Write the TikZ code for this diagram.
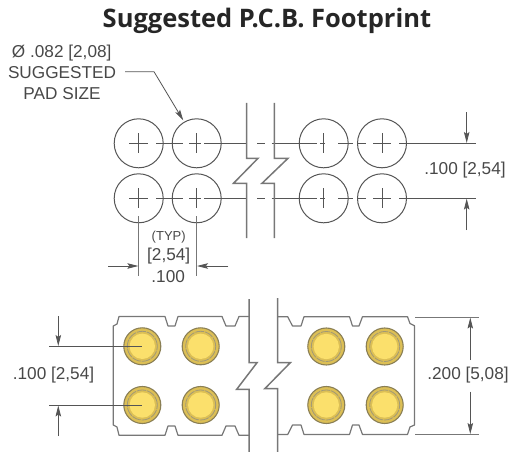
\documentclass[tikz,border=0pt]{standalone}
\usepackage{fontspec}
\setmainfont{Liberation Sans}
\newfontfamily\titlefont{Open Sans}
\usetikzlibrary{arrows.meta}
\definecolor{ink}{HTML}{555555}
\definecolor{txt}{HTML}{484848}
\definecolor{brk}{HTML}{777777}
\definecolor{padring}{HTML}{DCBF55}
\definecolor{padcore}{HTML}{FBE06C}
\definecolor{padedge}{HTML}{8A7F55}
\tikzset{
  x=1pt,y=-1pt,
  thin line/.style={draw=ink,line width=0.9pt},
  centre line/.style={draw=ink,line width=0.8pt},
  break line/.style={draw=brk,line width=1.5pt,line join=miter},
  outline/.style={draw=brk,line width=1.2pt,line join=round},
  ext line/.style={draw=brk,line width=0.9pt},
  dim arrow/.style={draw=ink,line width=0.8pt,-{Stealth[length=11pt,width=5.5pt,inset=2pt]}},
  padhole/.style={circle,draw=ink,line width=1pt,minimum size=49pt,inner sep=0pt,outer sep=0pt},
  lab/.style={text=txt,font=\fontsize{17.2}{20}\selectfont,inner sep=0pt},
  ttl/.style={text=black!85,font=\titlefont\bfseries\fontsize{25.5}{28}\selectfont,inner sep=0pt}
}
\newcommand{\pcbpad}[3]{%
  \node[circle,fill=padring,draw=padedge,line width=1.1pt,minimum size=37pt,inner sep=0pt] (#1) at (#2,#3) {};
  \draw[draw=padedge!80,line width=0.8pt,dash pattern=on 9pt off 1pt] (#2,#3) circle[radius=15pt];
  \fill[padcore] (#2,#3) circle[radius=12.7pt];
}
\newcommand{\crossat}[2]{%
  \draw[centre line] (#1,#2-10) -- (#1,#2+10);
}
\begin{document}
\begin{tikzpicture}
\useasboundingbox (0,0) rectangle (512,452);
\node[ttl,anchor=base west] (title) at (102.5,28) {Suggested P.C.B. Footprint};

% upper label
\node[lab] (l1) at (61.7,53) {Ø .082 [2,08]};
\node[lab] (l2) at (62,73) {SUGGESTED};
\node[lab] (l3) at (62,94) {PAD SIZE};

% suggested pad holes
\node[padhole] (h1) at (138.7,143.3) {};
\node[padhole] (h2) at (196.7,143.3) {};
\node[padhole] (h3) at (323.7,143.3) {};
\node[padhole] (h4) at (382,143.3) {};
\node[padhole] (h5) at (138.7,198.3) {};
\node[padhole] (h6) at (196.7,198.3) {};
\node[padhole] (h7) at (323.7,198.3) {};
\node[padhole] (h8) at (382,198.3) {};

% leader
\coordinate (lead0) at (125,71.7);
\coordinate (lead1) at (154,71.7);
\draw[dim arrow] (lead0) -- (lead1) -- (183.3,120.5);

% centre lines
\foreach \y in {143.3,198.3}{
  \draw[centre line] (129,\y) -- (148,\y);
  \draw[centre line] (156,\y) -- (183,\y);
  \draw[centre line] (189,\y) -- (201,\y);
  \draw[centre line] (204,\y) -- (247,\y);
  \draw[centre line] (257,\y) -- (265,\y);
  \draw[centre line] (271.7,\y) -- (317,\y);
  \draw[centre line] (320,\y) -- (325,\y);
  \draw[centre line] (338,\y) -- (353,\y);
  \draw[centre line] (357,\y) -- (366,\y);
  \draw[centre line] (373,\y) -- (391,\y);
  \draw[centre line] (399,\y) -- (476,\y);
}
\foreach \x in {138.7,196.7,323.7,382}{
  \crossat{\x}{143.3}
  \crossat{\x}{198.3}
}
\draw[ext line] (138.7,216) -- (138.7,276);
\draw[ext line] (196.7,216) -- (196.7,276);

% break, upper
\draw[break line] (246.7,103) -- (246.7,158.3) -- (258,158.3) -- (233.5,183.3) -- (246.7,183.3) -- (246.7,238);
\draw[break line] (274.3,103) -- (274.3,158.3) -- (288,158.3) -- (262,183.3) -- (274.3,183.3) -- (274.3,238);

% dims, upper
\coordinate (d1a) at (466.7,112.5);
\coordinate (d1b) at (466.7,143);
\coordinate (d2a) at (466.7,230);
\coordinate (d2b) at (466.7,198.6);
\draw[dim arrow] (d1a) -- (d1b);
\draw[dim arrow] (d2a) -- (d2b);
\node[lab] (t1) at (465,170) {.100 [2,54]};

\coordinate (d3a) at (108.3,266);
\coordinate (d3b) at (138.4,266);
\coordinate (d4a) at (228.3,266);
\coordinate (d4b) at (197,266);
\draw[dim arrow] (d3a) -- (d3b);
\draw[dim arrow] (d4a) -- (d4b);
\node[lab,font=\fontsize{13}{15}\selectfont] (t2) at (168.7,237.5) {(TYP)};
\node[lab] (t3) at (168.7,256) {[2,54]};
\node[lab] (t4) at (168.2,277) {.100};

% lower body
\draw[outline] (249,316.5) -- (239,316.5) -- (235,326) -- (226,326) -- (222,316.5) -- (178,316.5)
  -- (175,326) -- (168,326) -- (165,316.5) -- (119,316.5) -- (117,324) -- (113.3,326) -- (113.3,425)
  -- (117,427) -- (119,435.3) -- (165,435.3) -- (168,426) -- (175,426) -- (178,435.3) -- (222,435.3)
  -- (226,426) -- (235,426) -- (239,435.3) -- (249,435.3);
\draw[outline] (277.7,316.7) -- (287.7,316.7) -- (292.5,326) -- (301,326) -- (304,316.7) -- (349.5,316.7)
  -- (352.5,326) -- (359,326) -- (362.5,316.7) -- (407.5,316.7) -- (410,323.5) -- (414.5,325.7) -- (414.5,425)
  -- (410,427) -- (407.5,434.5) -- (362.5,434.5) -- (359,425) -- (352.5,425) -- (349.5,434.5) -- (304,434.5)
  -- (301,425) -- (292.5,425) -- (287.7,434.5) -- (277.7,434.5);
\draw[break line] (249,299) -- (249,362.7) -- (257,362.7) -- (236.7,389.3) -- (249,389.3) -- (249,452);
\draw[break line] (277.7,298) -- (277.7,362.7) -- (290.3,362.7) -- (265,388.5) -- (277.7,388.5) -- (277.7,452);

% pads
\pcbpad{p1}{142.3}{346.3}
\pcbpad{p2}{200.7}{346.3}
\pcbpad{p3}{326.3}{346.5}
\pcbpad{p4}{384.7}{346.5}
\pcbpad{p5}{142.3}{405}
\pcbpad{p6}{200.7}{405}
\pcbpad{p7}{326.3}{405}
\pcbpad{p8}{384.7}{405}

% dims, lower
\coordinate (e1) at (49.3,346.3);
\coordinate (e2) at (49.3,405);
\draw[thin line] (e1) -- (p1.center);
\draw[thin line] (e2) -- (p5.center);
\coordinate (d5a) at (58.3,316);
\coordinate (d5b) at (58.3,346);
\coordinate (d6a) at (58.3,436);
\coordinate (d6b) at (58.3,405.5);
\draw[dim arrow] (d5a) -- (d5b);
\draw[dim arrow] (d6a) -- (d6b);
\node[lab] (t5) at (53.5,375) {.100 [2,54]};

\coordinate (e3a) at (415,317.3);
\coordinate (e3b) at (479,317.3);
\coordinate (e4a) at (415,434.3);
\coordinate (e4b) at (479,434.3);
\draw[ext line] (e3a) -- (e3b);
\draw[ext line] (e4a) -- (e4b);
\coordinate (d7a) at (470.3,360);
\coordinate (d7b) at (470.3,317.6);
\coordinate (d8a) at (470.3,391.7);
\coordinate (d8b) at (470.3,434);
\draw[dim arrow] (d7a) -- (d7b);
\draw[dim arrow] (d8a) -- (d8b);
\node[lab] (t6) at (468,375) {.200 [5,08]};
\end{tikzpicture}
\end{document}
